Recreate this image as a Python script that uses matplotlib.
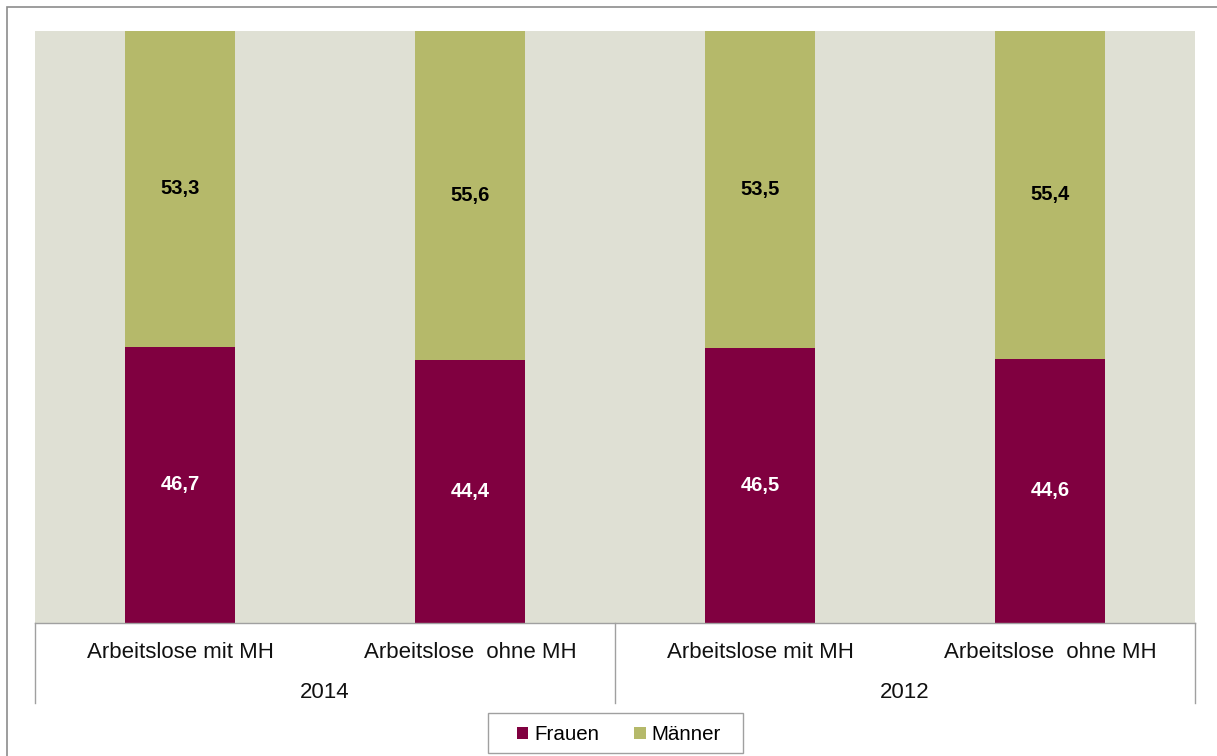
import numpy as np
import matplotlib.pyplot as plt
from matplotlib.patches import Rectangle
from matplotlib.lines import Line2D

plt.rcParams['font.family'] = ['Liberation Sans', 'DejaVu Sans']

# shares of unemployed by sex (percent)
categories = ['Arbeitslose mit MH', 'Arbeitslose  ohne MH', 'Arbeitslose mit MH', 'Arbeitslose  ohne MH']
years = ['2014', '2012']
frauen = [46.7, 44.4, 46.5, 44.6]
maenner = [53.3, 55.6, 53.5, 55.4]

c_frauen = '#800040'
c_maenner = '#b5b96a'
c_bg = '#dfe0d4'

W, H = 1217, 756
fig = plt.figure(figsize=(W / 100, H / 100), dpi=100)

# plot area in pixels: x 35..1195, y 31..623
left, right, top, bottom = 35, 1195, 31, 623
ax = fig.add_axes([left / W, 1 - bottom / H, (right - left) / W, (bottom - top) / H])
ax.set_facecolor(c_bg)

x = np.arange(len(categories))
width = 0.38
ax.bar(x, frauen, width, color=c_frauen, label='Frauen', zorder=2)
ax.bar(x, maenner, width, bottom=frauen, color=c_maenner, label='Männer', zorder=2)

for xi, f, m in zip(x, frauen, maenner):
    ax.text(xi, f / 2, f'{f:.1f}'.replace('.', ','), ha='center', va='center',
            color='white', fontsize=14.5, fontweight='bold', zorder=3)
    ax.text(xi, f + m / 2, f'{m:.1f}'.replace('.', ','), ha='center', va='center',
            color='black', fontsize=14.5, fontweight='bold', zorder=3)

ax.set_xlim(-0.5, len(categories) - 0.5)
ax.set_ylim(0, 100)
ax.set_xticks([])
ax.set_yticks([])
for s in ['top', 'left', 'right']:
    ax.spines[s].set_visible(False)
ax.spines['bottom'].set_color('#a0a0a0')
ax.spines['bottom'].set_linewidth(1)

# two-level category axis below the plot
tr = ax.get_xaxis_transform()
for xi, lab in zip(x, categories):
    ax.text(xi, -0.05, lab, transform=tr, ha='center', va='center', fontsize=16, color='#111111')
for i, yr in enumerate(years):
    ax.text(2 * i + 0.5, -0.118, yr, transform=tr, ha='center', va='center', fontsize=16, color='#111111')
for xs in [-0.5, 1.5, 3.5]:
    ax.add_line(Line2D([xs, xs], [0, -0.135], transform=tr, color='#a0a0a0', lw=1, clip_on=False))

# legend, with its box drawn separately
leg = fig.legend(loc='center', bbox_to_anchor=(619 / W, 1 - 735 / H), ncol=2, frameon=False,
                 fontsize=14.8, handlelength=0.55, handleheight=0.55, handletextpad=0.3,
                 columnspacing=1.7, borderaxespad=0)
fig.add_artist(Rectangle((488 / W, 1 - 753 / H), 255 / W, 40 / H, transform=fig.transFigure,
                         fill=False, edgecolor='#a0a0a0', lw=1))

# outer chart border
fig.add_artist(Rectangle((7 / W, -0.05), 1.1, 1 - 7 / H + 0.05, transform=fig.transFigure,
                         fill=False, edgecolor='#8c8c8c', lw=1.2))

fig.savefig('out.png', dpi=100, facecolor='white')
